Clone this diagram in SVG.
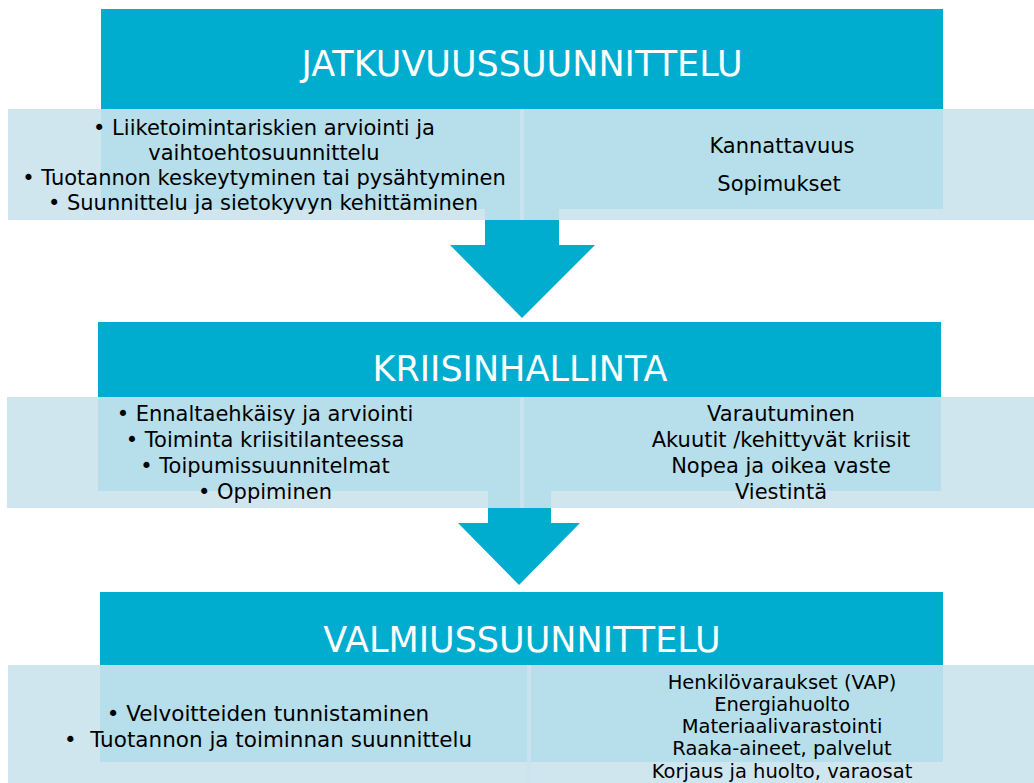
<svg xmlns="http://www.w3.org/2000/svg" width="1034" height="783" viewBox="0 0 1034 783">
  <style>
    .hdr { fill: #00ADCF; }
    .band { fill: #CAE3ED; fill-opacity: 0.9; }
    .arrow { fill: #00ADCF; }
    .title { font-family: 'DejaVu Sans', 'Liberation Sans', sans-serif; font-size: 35px; fill: #FFFFFF; text-anchor: middle; }
    .txt { font-family: 'DejaVu Sans', 'Liberation Sans', sans-serif; font-size: 21px; fill: #000000; text-anchor: middle; }
    .sm { font-size: 19.5px; }
    .lg { font-size: 21.5px; }
  </style>
  <rect width="1034" height="783" fill="#FFFFFF"/>

  <g id="connectors">
    <polygon id="arrow1" class="arrow" points="485,205 559,205 559,245 595,245 522,318 450,245 485,245"/>
    <polygon id="arrow2" class="arrow" points="488,487 551,487 551,523 580,523 519,585 458,523 488,523"/>
  </g>

  <g id="jatkuvuussuunnittelu">
    <rect class="hdr" x="101" y="9" width="842" height="200"/>
    <text class="title" x="522" y="76">JATKUVUUSSUUNNITTELU</text>
    <g id="jatkuvuus-left">
      <rect class="band" x="8" y="109" width="516" height="111"/>
      <text class="txt" x="264" y="135">• Liiketoimintariskien arviointi ja</text>
      <text class="txt" x="264" y="160">vaihtoehtosuunnittelu</text>
      <text class="txt" x="264" y="185">• Tuotannon keskeytyminen tai pysähtyminen</text>
      <text class="txt" x="263" y="210">• Suunnittelu ja sietokyvyn kehittäminen</text>
    </g>
    <g id="jatkuvuus-right">
      <rect class="band" x="520" y="109" width="514" height="111"/>
      <text class="txt" x="782" y="153">Kannattavuus</text>
      <text class="txt" x="779" y="191">Sopimukset</text>
    </g>
  </g>

  <g id="kriisinhallinta">
    <rect class="hdr" x="98" y="322" width="843" height="169"/>
    <text class="title" x="520" y="381">KRIISINHALLINTA</text>
    <g id="kriisi-left">
      <rect class="band" x="7" y="397" width="517" height="111"/>
      <text class="txt" x="265" y="421">• Ennaltaehkäisy ja arviointi</text>
      <text class="txt" x="265" y="447">• Toiminta kriisitilanteessa</text>
      <text class="txt" x="265" y="473">• Toipumissuunnitelmat</text>
      <text class="txt" x="265" y="499">• Oppiminen</text>
    </g>
    <g id="kriisi-right">
      <rect class="band" x="520" y="397" width="514" height="111"/>
      <text class="txt" x="781" y="421">Varautuminen</text>
      <text class="txt" x="781" y="447">Akuutit /kehittyvät kriisit</text>
      <text class="txt" x="781" y="473">Nopea ja oikea vaste</text>
      <text class="txt" x="781" y="499">Viestintä</text>
    </g>
  </g>

  <g id="valmiussuunnittelu">
    <rect class="hdr" x="100" y="592" width="843" height="170"/>
    <text class="title" x="522" y="652">VALMIUSSUUNNITTELU</text>
    <g id="valmius-left">
      <rect class="band" x="8" y="665" width="523" height="125"/>
      <text class="txt lg" x="268" y="721">• Velvoitteiden tunnistaminen</text>
      <text class="txt lg" x="268" y="747">•&#160;&#160;Tuotannon ja toiminnan suunnittelu</text>
    </g>
    <g id="valmius-right">
      <rect class="band" x="527" y="665" width="507" height="125"/>
      <text class="txt sm" x="782" y="689">Henkilövaraukset (VAP)</text>
      <text class="txt sm" x="782" y="711">Energiahuolto</text>
      <text class="txt sm" x="782" y="733">Materiaalivarastointi</text>
      <text class="txt sm" x="782" y="755">Raaka-aineet, palvelut</text>
      <text class="txt sm" x="782" y="778">Korjaus ja huolto, varaosat</text>
    </g>
  </g>
</svg>
